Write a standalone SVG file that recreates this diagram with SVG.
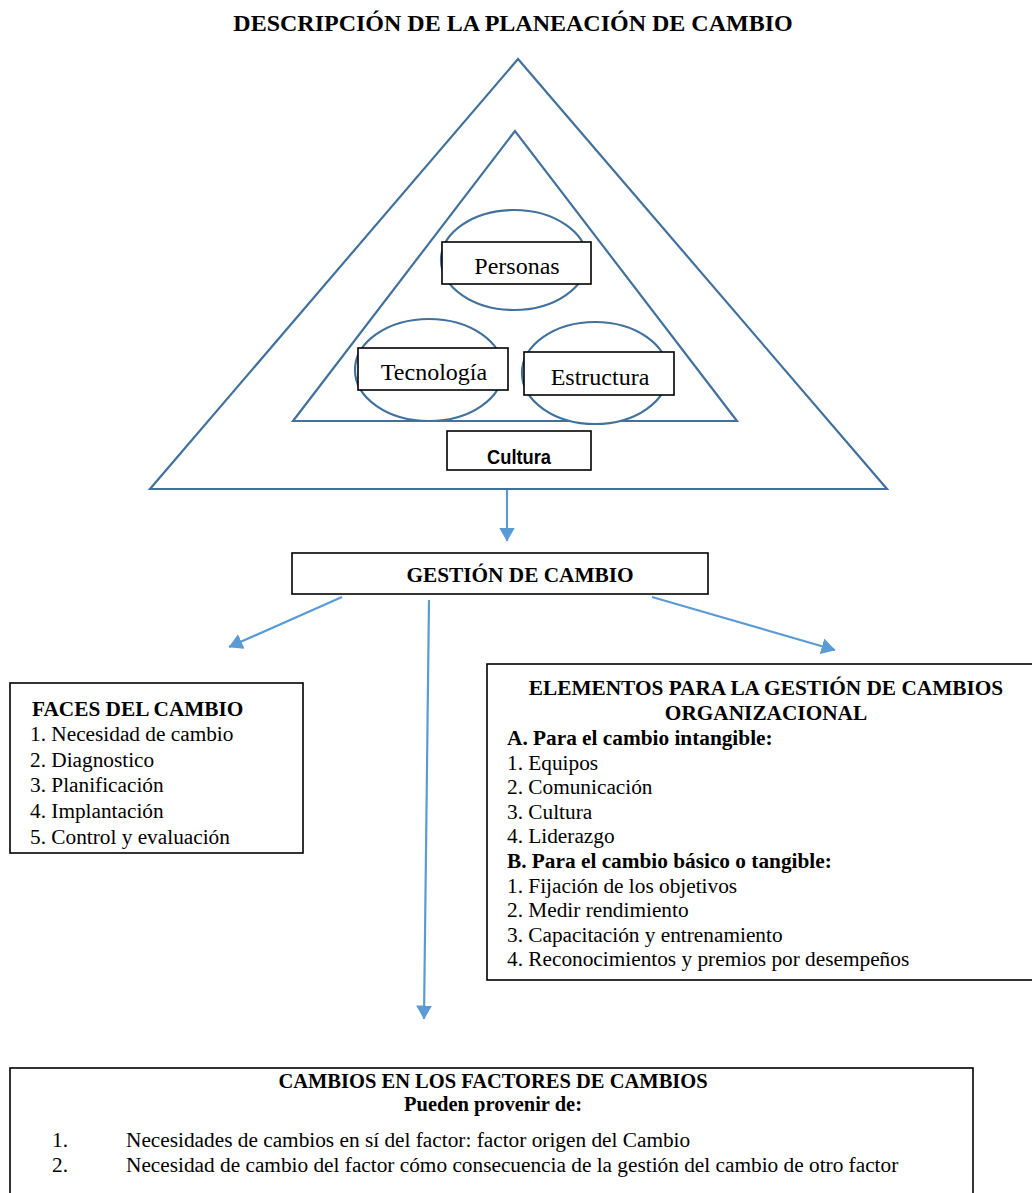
<svg xmlns="http://www.w3.org/2000/svg" width="1032" height="1193" viewBox="0 0 1032 1193">
<style>
.tri{fill:none;stroke:#41719C;stroke-width:2.2}
.ell{fill:#fff;stroke:#41719C;stroke-width:2.2}
.box{fill:#fff;stroke:#000;stroke-width:1.6}
.t{font-family:"Liberation Serif","Times New Roman",serif;font-size:21.3px;fill:#000}
.n{font-size:24px}
.h{font-size:24px}
.b{font-weight:bold}
.m{text-anchor:middle}
.s{font-family:"Liberation Sans",Arial,sans-serif;font-size:20px;font-weight:bold;fill:#000}
.arr{stroke:#5B9BD5;stroke-width:2.2;fill:none}
</style>
<defs>
<marker id="ah" viewBox="0 0 14 16" refX="13.5" refY="8" markerWidth="14" markerHeight="16" markerUnits="userSpaceOnUse" orient="auto">
<path d="M0,0 L14,8 L0,16 z" fill="#5B9BD5"/>
</marker>
</defs>
<rect width="1032" height="1193" fill="#fff"/>
<text class="t h b m" x="513" y="31">DESCRIPCIÓN DE LA PLANEACIÓN DE CAMBIO</text>
<g id="outer-triangle"><polygon class="tri" points="518,59 150,489 887,489"/></g>
<g id="inner-triangle"><polygon class="tri" points="515,131 293,421 737,421"/></g>
<g id="personas">
<ellipse class="ell" cx="514" cy="260" rx="73" ry="50"/>
<rect class="box" x="442" y="242" width="149" height="42"/>
<text class="t n m" x="517" y="274">Personas</text>
</g>
<g id="tecnologia">
<ellipse class="ell" cx="429" cy="370" rx="74" ry="51"/>
<rect class="box" x="358" y="348" width="150" height="42"/>
<text class="t n m" x="434" y="380">Tecnología</text>
</g>
<g id="estructura">
<ellipse class="ell" cx="595" cy="373" rx="73" ry="51"/>
<rect class="box" x="524" y="352" width="150" height="43"/>
<text class="t n m" x="600" y="385">Estructura</text>
</g>
<g id="cultura">
<rect class="box" x="447" y="431" width="144" height="39"/>
<text class="s" x="487" y="464" textLength="64" lengthAdjust="spacingAndGlyphs">Cultura</text>
</g>
<g id="gestion">
<rect class="box" x="292" y="553" width="416" height="41"/>
<text class="t b m" x="520" y="582">GESTIÓN DE CAMBIO</text>
</g>
<g id="faces">
<rect class="box" x="10" y="683" width="293" height="170"/>
<text class="t b" x="32" y="716">FACES DEL CAMBIO</text>
<text class="t" x="30" y="741">1. Necesidad de cambio</text>
<text class="t" x="30" y="767">2. Diagnostico</text>
<text class="t" x="30" y="792">3. Planificación</text>
<text class="t" x="30" y="818">4. Implantación</text>
<text class="t" x="30" y="844">5. Control y evaluación</text>
</g>
<g id="elementos">
<rect class="box" x="487" y="664" width="548" height="316"/>
<text class="t b m" x="766" y="695">ELEMENTOS PARA LA GESTIÓN DE CAMBIOS</text>
<text class="t b m" x="766" y="720">ORGANIZACIONAL</text>
<text class="t b" x="507" y="745">A. Para el cambio intangible:</text>
<text class="t" x="507" y="770">1. Equipos</text>
<text class="t" x="507" y="794">2. Comunicación</text>
<text class="t" x="507" y="819">3. Cultura</text>
<text class="t" x="507" y="843">4. Liderazgo</text>
<text class="t b" x="507" y="868">B. Para el cambio básico o tangible:</text>
<text class="t" x="507" y="893">1. Fijación de los objetivos</text>
<text class="t" x="507" y="917">2. Medir rendimiento</text>
<text class="t" x="507" y="942">3. Capacitación y entrenamiento</text>
<text class="t" x="507" y="966">4. Reconocimientos y premios por desempeños</text>
</g>
<g id="factores">
<rect class="box" x="10" y="1068" width="963" height="140"/>
<text class="t b m" x="493" y="1088" style="font-size:20.5px">CAMBIOS EN LOS FACTORES DE CAMBIOS</text>
<text class="t b m" x="493" y="1111" style="font-size:20.5px">Pueden provenir de:</text>
<text class="t" x="52" y="1147">1.</text>
<text class="t" x="126" y="1147">Necesidades de cambios en sí del factor: factor origen del Cambio</text>
<text class="t" x="52" y="1172">2.</text>
<text class="t" x="126" y="1172">Necesidad de cambio del factor cómo consecuencia de la gestión del cambio de otro factor</text>
</g>
<g id="connectors">
<line class="arr" x1="507" y1="490" x2="507" y2="541" marker-end="url(#ah)"/>
<line class="arr" x1="342" y1="597" x2="229" y2="647" marker-end="url(#ah)"/>
<line class="arr" x1="429" y1="600" x2="424" y2="1019" marker-end="url(#ah)"/>
<line class="arr" x1="652" y1="597" x2="835" y2="650" marker-end="url(#ah)"/>
</g>
</svg>
